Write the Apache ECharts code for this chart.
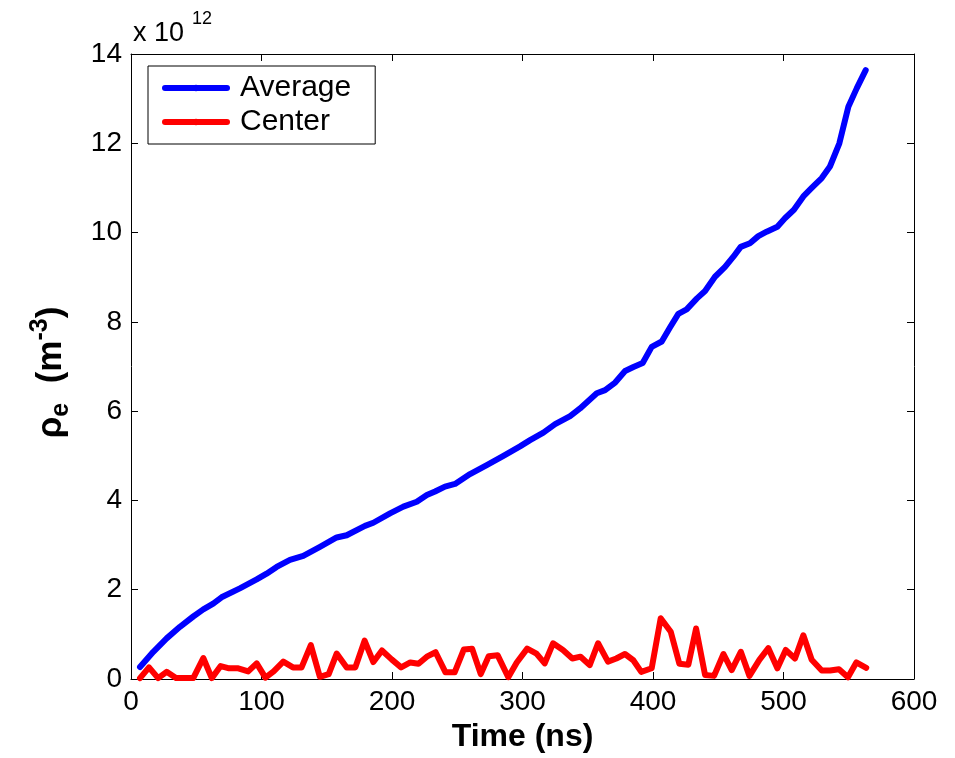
<!DOCTYPE html>
<html>
<head>
<meta charset="utf-8">
<script src="https://cdn.jsdelivr.net/npm/echarts@6/dist/echarts.min.js"></script>
<style>
html,body{margin:0;padding:0;background:#fff;}
#chart{width:955px;height:758px;}
</style>
</head>
<body>
<div id="chart"></div>
<script>
// Values in units of 1e12 m^-3, time in ns
var seriesNames = ['Average', 'Center'];
var avgTime = [6.9, 17.1, 27.3, 37.5, 47.7, 55.4, 63, 69.4, 83.4, 96.3, 103.9, 111.6, 121.8, 132, 144.8, 157.6, 165.3, 179.3, 185.7, 198.5, 208.7, 219, 226.7, 233, 240.6, 248.3, 259.8, 272.6, 285.4, 298.1, 305.8, 316, 325, 336.5, 344.1, 356.9, 363.3, 371, 378.6, 385, 392.1, 399, 406.7, 413.1, 419.4, 425.8, 433.5, 439.9, 447.5, 455.2, 461.6, 467.2, 474.3, 480.7, 487.1, 495.3, 501.1, 508, 515.2, 521.6, 529.3, 535.6, 542.8, 549.7, 556.1, 563];
var avgValue = [0.27, 0.61, 0.91, 1.17, 1.4, 1.56, 1.69, 1.83, 2.03, 2.23, 2.36, 2.51, 2.67, 2.76, 2.96, 3.17, 3.22, 3.43, 3.5, 3.71, 3.86, 3.97, 4.12, 4.2, 4.31, 4.37, 4.59, 4.79, 5.0, 5.21, 5.35, 5.52, 5.71, 5.89, 6.06, 6.4, 6.47, 6.64, 6.9, 6.99, 7.08, 7.44, 7.56, 7.88, 8.18, 8.28, 8.52, 8.69, 9.01, 9.23, 9.46, 9.68, 9.76, 9.92, 10.02, 10.13, 10.32, 10.51, 10.81, 11.0, 11.22, 11.48, 12.0, 12.82, 13.23, 13.64];
var centerTime = [6.9, 13.8, 20.8, 27.3, 34.5, 41, 47.7, 55.4, 61.9, 68.7, 75.2, 82.2, 89.8, 96.3, 103, 109.3, 116.7, 124.1, 130.7, 137.8, 144.7, 151.5, 157.6, 165.3, 171.9, 179, 185.7, 192.3, 199.7, 207, 214, 220.3, 226.7, 233.4, 241, 248, 255, 261.4, 268, 274.1, 281, 289.1, 295.6, 303.6, 310.7, 317, 323.4, 331, 338.2, 344.5, 351.5, 357.9, 365.5, 371.9, 378.5, 384.9, 391, 399, 405.9, 413.6, 420.2, 427.1, 433, 439.9, 446.8, 454, 460.3, 467.3, 473.9, 481.5, 488.4, 495.3, 501.7, 508.8, 515.2, 521.6, 529.3, 535.7, 542.5, 549.4, 555.8, 563.4];
var centerValue = [0.02, 0.26, 0.02, 0.16, 0.02, 0.02, 0.02, 0.47, 0.02, 0.29, 0.24, 0.24, 0.17, 0.35, 0.03, 0.17, 0.39, 0.26, 0.26, 0.76, 0.05, 0.11, 0.57, 0.26, 0.26, 0.86, 0.38, 0.64, 0.44, 0.26, 0.37, 0.34, 0.5, 0.6, 0.15, 0.15, 0.66, 0.68, 0.11, 0.51, 0.53, 0.04, 0.37, 0.68, 0.57, 0.35, 0.8, 0.65, 0.46, 0.5, 0.31, 0.8, 0.39, 0.46, 0.56, 0.42, 0.16, 0.24, 1.36, 1.06, 0.34, 0.32, 1.13, 0.09, 0.07, 0.56, 0.2, 0.61, 0.07, 0.43, 0.69, 0.24, 0.65, 0.46, 0.98, 0.43, 0.19, 0.19, 0.22, 0.04, 0.37, 0.25];
var xTicks = {min: 0, max: 600, interval: 100};
var yTicks = {min: 0, max: 14, interval: 2};
var exponentText = ['x 10', '12'];

function pairs(xs, ys) { return xs.map(function (x, i) { return [x, ys[i]]; }); }

var FONT = "'Liberation Sans', Arial, Helvetica, sans-serif";
var chart = echarts.init(document.getElementById('chart'), null, {renderer: 'canvas'});

function frameAxis(pos, isX, showLabel, extra) {
  var o = {
    type: 'value',
    position: pos,
    min: isX ? xTicks.min : yTicks.min,
    max: isX ? xTicks.max : yTicks.max,
    interval: isX ? xTicks.interval : yTicks.interval,
    axisLine: {show: true, onZero: false, lineStyle: {color: '#000', width: 1}},
    axisTick: {show: true, inside: true, length: 7, lineStyle: {color: '#000', width: 1}},
    axisLabel: {show: showLabel, color: '#000', fontSize: 28, fontFamily: FONT, margin: 9},
    splitLine: {show: false}
  };
  for (var k in extra) o[k] = extra[k];
  return o;
}

var option = {
  animation: false,
  backgroundColor: '#fff',
  grid: {left: 131, right: 41, top: 54, bottom: 79, containLabel: false},
  xAxis: [
    frameAxis('bottom', true, true, {
      name: 'Time (ns)', nameLocation: 'middle', nameGap: 38,
      nameTextStyle: {color: '#000', fontSize: 32, fontWeight: 'bold', fontFamily: FONT}
    }),
    frameAxis('top', true, false, {})
  ],
  yAxis: [
    frameAxis('left', false, true, {
      name: '{a|ρ}{s|e}{a|  (m}{p|-3}{a|)}', nameLocation: 'middle', nameGap: 57,
      nameTextStyle: {
        color: '#000', fontFamily: FONT, padding: [0, 12, 0, 0],
        rich: {
          a: {fontSize: 35, fontWeight: 'bold', fontFamily: FONT, color: '#000', verticalAlign: 'middle', lineHeight: 46},
          s: {fontSize: 25, fontWeight: 'bold', fontFamily: FONT, color: '#000', verticalAlign: 'bottom', lineHeight: 10},
          p: {fontSize: 25, fontWeight: 'bold', fontFamily: FONT, color: '#000', verticalAlign: 'top', lineHeight: 16}
        }
      }
    }),
    frameAxis('right', false, false, {})
  ],
  legend: {
    data: seriesNames,
    orient: 'vertical',
    left: 148, top: 66,
    itemWidth: 62, itemHeight: 8, itemGap: 4,
    padding: [7, 24, 7, 14],
    borderColor: '#000', borderWidth: 1, backgroundColor: '#fff',
    textStyle: {fontSize: 30, color: '#000', fontFamily: FONT, padding: [0, 0, 0, 8]},
    lineStyle: {width: 6}
  },
  graphic: [
    {type: 'text', left: 133, top: 20, style: {text: exponentText[0], fontSize: 27, fontFamily: FONT, fill: '#000'}},
    {type: 'text', left: 192, top: 10, style: {text: exponentText[1], fontSize: 18, fontFamily: FONT, fill: '#000'}}
  ],
  series: [
    {
      name: seriesNames[0], type: 'line', data: pairs(avgTime, avgValue),
      symbol: 'none', showSymbol: false, color: '#0000ff',
      lineStyle: {width: 6, color: '#0000ff', cap: 'round', join: 'round'}
    },
    {
      name: seriesNames[1], type: 'line', data: pairs(centerTime, centerValue),
      symbol: 'none', showSymbol: false, color: '#ff0000',
      lineStyle: {width: 6, color: '#ff0000', cap: 'round', join: 'round'}
    }
  ]
};
chart.setOption(option);
</script>
</body>
</html>
